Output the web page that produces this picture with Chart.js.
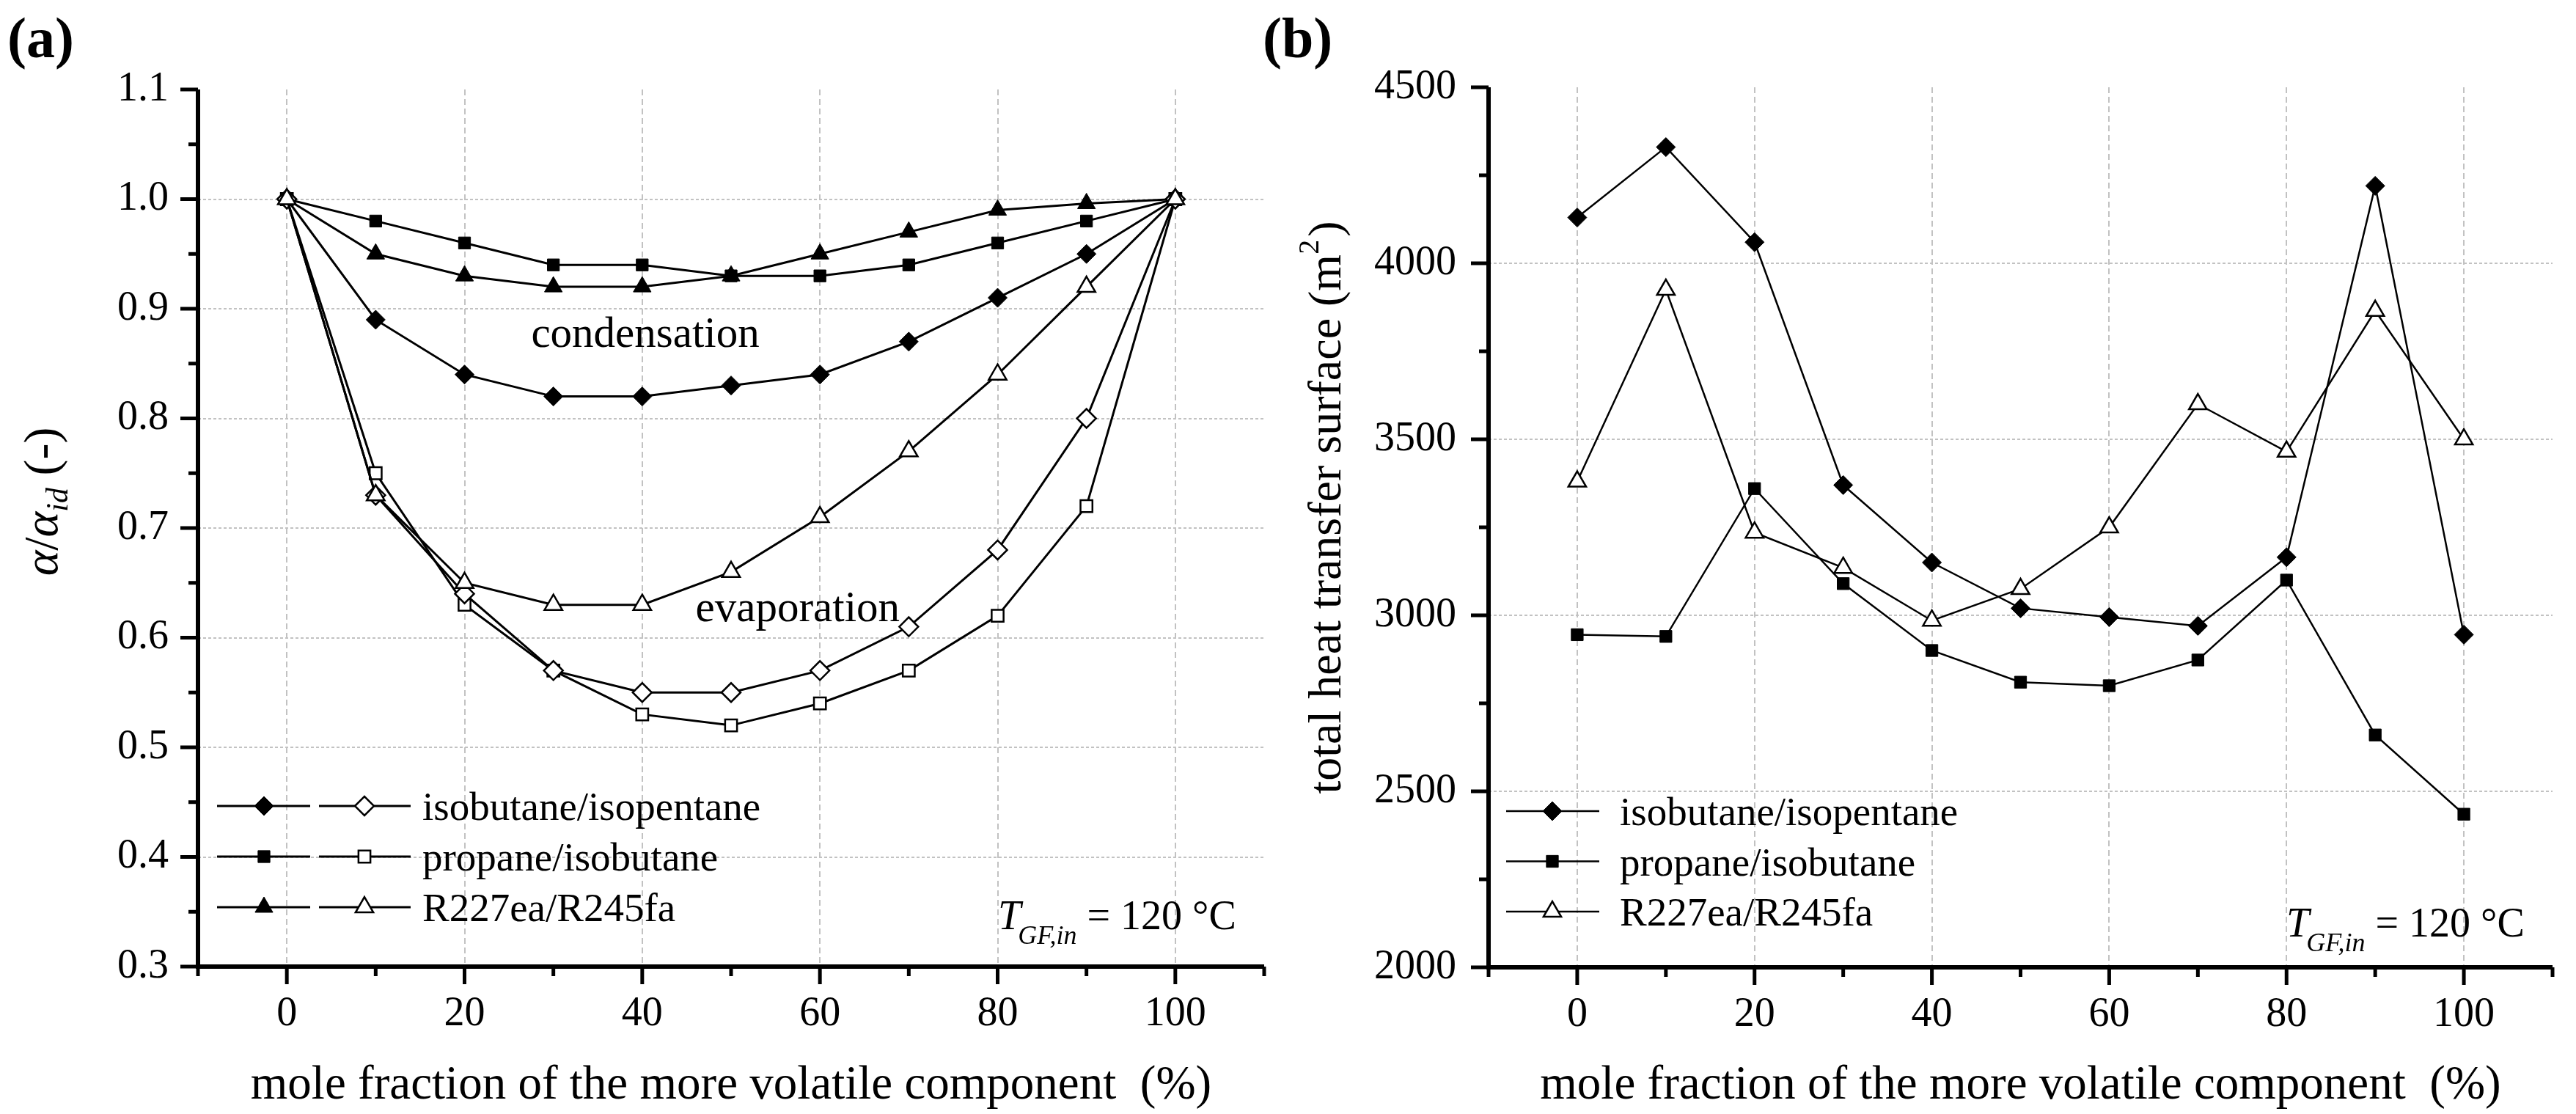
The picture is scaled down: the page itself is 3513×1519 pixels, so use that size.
<!DOCTYPE html>
<html>
<head>
<meta charset="utf-8">
<title>alpha/alpha_id and total heat transfer surface vs. mole fraction</title>
<script src="https://cdn.jsdelivr.net/npm/chart.js"></script>
<style>
  html, body { margin: 0; padding: 0; background: #fff; }
  body { width: 3513px; height: 1519px; position: relative; overflow: hidden; }
  .panel { position: absolute; top: 0; height: 1519px; }
  #panelA { left: 0; width: 1756px; }
  #panelB { left: 1700px; width: 1813px; }
</style>
</head>
<body>
<div class="panel" id="panelA"><canvas id="chartA"></canvas></div>
<div class="panel" id="panelB"><canvas id="chartB"></canvas></div>
<script>
// mole fraction of the more volatile component (%)
const moleFraction = [0, 10, 20, 30, 40, 50, 60, 70, 80, 90, 100];

const seriesNames = ["isobutane/isopentane", "propane/isobutane", "R227ea/R245fa"];

// (a) alpha/alpha_id - condensation (filled markers)
const condIsoIso = [1.00, 0.89, 0.84, 0.82, 0.82, 0.83, 0.84, 0.87, 0.91, 0.95, 1.00];
const condPropIso = [1.00, 0.98, 0.96, 0.94, 0.94, 0.93, 0.93, 0.94, 0.96, 0.98, 1.00];
const condR227 = [1.00, 0.95, 0.93, 0.92, 0.92, 0.93, 0.95, 0.97, 0.99, 0.996, 1.00];
// (a) alpha/alpha_id - evaporation (open markers)
const evapIsoIso = [1.00, 0.73, 0.64, 0.57, 0.55, 0.55, 0.57, 0.61, 0.68, 0.80, 1.00];
const evapPropIso = [1.00, 0.75, 0.63, 0.57, 0.53, 0.52, 0.54, 0.57, 0.62, 0.72, 1.00];
const evapR227 = [1.00, 0.73, 0.65, 0.63, 0.63, 0.66, 0.71, 0.77, 0.84, 0.92, 1.00];

// (b) total heat transfer surface (m2)
const areaIsoIso = [4130, 4330, 4060, 3370, 3150, 3020, 2995, 2970, 3165, 4220, 2945];
const areaPropIso = [2945, 2940, 3360, 3090, 2900, 2810, 2800, 2873, 3100, 2660, 2435];
const areaR227 = [3380, 3925, 3235, 3135, 2985, 3075, 3250, 3600, 3465, 3865, 3500];

// tick labels
const xTickLabels = [0, 20, 40, 60, 80, 100];
const alphaTickLabels = [0.3, 0.4, 0.5, 0.6, 0.7, 0.8, 0.9, 1.0, 1.1];
const areaTickLabels = [2000, 2500, 3000, 3500, 4000, 4500];

const SERIF = "'Liberation Serif', 'Times New Roman', serif";
Chart.defaults.font.family = SERIF;
Chart.defaults.color = "#000";

const markerStyle = {
  diamond: { pointStyle: "rectRot", radius: 13 },
  square: { pointStyle: "rect", radius: 11.5 },
  triangle: { pointStyle: "triangle", radius: 14 }
};

function toPoints(values) {
  return moleFraction.map((x, i) => ({ x: x, y: values[i] }));
}

function lineSet(label, values, shape, filled, width) {
  const m = markerStyle[shape];
  return {
    label: label,
    data: toPoints(values),
    borderColor: "#000",
    borderWidth: width,
    pointStyle: m.pointStyle,
    pointRadius: m.radius,
    pointHoverRadius: m.radius,
    pointBackgroundColor: filled ? "#000" : "#fff",
    pointBorderColor: "#000",
    pointBorderWidth: filled ? 1 : 2.5,
    tension: 0,
    fill: false
  };
}

// major ticks carry labels, minor ticks sit half way between them
function tickSet(major, min, max) {
  const step = major[1] - major[0];
  const minor = [];
  for (let i = -1; i < major.length; i++) {
    const v = major[0] + (i + 0.5) * step;
    if (v >= min - 1e-9 && v <= max + 1e-9) minor.push(v);
  }
  return { major: major, minor: minor, all: major.concat(minor).sort((a, b) => a - b) };
}

function isIn(v, list) {
  return list.some(t => Math.abs(t - v) < 1e-6);
}

function xScale(ticks, height) {
  return {
    type: "linear", min: -10, max: 110,
    afterBuildTicks: s => { s.ticks = ticks.all.map(v => ({ value: v })); },
    afterFit: s => { s.height = height; },
    ticks: {
      autoSkip: false, maxRotation: 0, padding: 32, color: "#000",
      font: { family: SERIF, size: 56 },
      callback: v => isIn(v, ticks.major) ? String(Math.round(v)) : ""
    },
    grid: { display: false, drawTicks: false },
    border: { display: false }
  };
}

function yScale(ticks, width, pad, fmt) {
  return {
    type: "linear", min: ticks.major[0], max: ticks.major[ticks.major.length - 1],
    afterBuildTicks: s => { s.ticks = ticks.all.map(v => ({ value: v })); },
    afterFit: s => { s.width = width; },
    ticks: {
      autoSkip: false, padding: pad, color: "#000",
      font: { family: SERIF, size: 56 },
      callback: v => isIn(v, ticks.major) ? fmt(v) : ""
    },
    grid: { display: false, drawTicks: false },
    border: { display: false }
  };
}

// dashed grid, thick axes and outward ticks
function axesPlugin(xt, yt) {
  return {
    id: "originAxes",
    beforeDatasetsDraw(chart) {
      const { ctx, chartArea: a, scales } = chart;
      ctx.save();
      ctx.strokeStyle = "#c2c2c2";
      ctx.lineWidth = 2;
      ctx.setLineDash([8, 5]);
      xt.major.forEach(v => {
        const px = Math.round(scales.x.getPixelForValue(v));
        ctx.beginPath(); ctx.moveTo(px, a.top); ctx.lineTo(px, a.bottom); ctx.stroke();
      });
      ctx.setLineDash([4, 3]);
      yt.major.slice(1, -1).forEach(v => {
        const py = Math.round(scales.y.getPixelForValue(v));
        ctx.beginPath(); ctx.moveTo(a.left, py); ctx.lineTo(a.right, py); ctx.stroke();
      });
      ctx.restore();
    },
    afterDatasetsDraw(chart) {
      const { ctx, chartArea: a, scales } = chart;
      ctx.save();
      ctx.setLineDash([]);
      ctx.strokeStyle = "#000";
      ctx.lineCap = "butt";
      ctx.lineWidth = 5;
      yt.all.forEach(v => {
        const py = scales.y.getPixelForValue(v);
        const len = isIn(v, yt.major) ? 24 : 13;
        ctx.beginPath(); ctx.moveTo(a.left - len, py); ctx.lineTo(a.left, py); ctx.stroke();
      });
      xt.all.forEach(v => {
        const px = scales.x.getPixelForValue(v);
        const len = isIn(v, xt.major) ? 24 : 13;
        ctx.beginPath(); ctx.moveTo(px, a.bottom); ctx.lineTo(px, a.bottom + len); ctx.stroke();
      });
      ctx.lineWidth = 6;
      ctx.beginPath();
      ctx.moveTo(a.left, a.top);
      ctx.lineTo(a.left, a.bottom);
      ctx.lineTo(a.right, a.bottom);
      ctx.stroke();
      ctx.restore();
    }
  };
}

// text runs made of pieces with own font and baseline shift
function drawRuns(ctx, x, y, pieces, align, rotate) {
  ctx.save();
  ctx.translate(x, y);
  if (rotate) ctx.rotate(-Math.PI / 2);
  ctx.fillStyle = "#000";
  ctx.textAlign = "left";
  ctx.textBaseline = "alphabetic";
  let total = 0;
  pieces.forEach(p => { ctx.font = p.font; p.w = ctx.measureText(p.text).width + (p.gap || 0); total += p.w; });
  let pos = align === "center" ? -total / 2 : 0;
  pieces.forEach(p => {
    ctx.font = p.font;
    ctx.fillText(p.text, pos, p.dy || 0);
    pos += p.w;
  });
  ctx.restore();
}

function marker(ctx, shape, filled, px, py) {
  const m = markerStyle[shape];
  ctx.save();
  ctx.setLineDash([]);
  ctx.fillStyle = filled ? "#000" : "#fff";
  ctx.strokeStyle = "#000";
  ctx.lineWidth = filled ? 1 : 2.5;
  Chart.helpers.drawPoint(ctx, { pointStyle: m.pointStyle, radius: m.radius, rotation: 0, borderWidth: ctx.lineWidth }, px, py);
  ctx.restore();
}

function segment(ctx, x1, x2, y, width) {
  ctx.save();
  ctx.strokeStyle = "#000";
  ctx.lineWidth = width;
  ctx.beginPath(); ctx.moveTo(x1, y); ctx.lineTo(x2, y); ctx.stroke();
  ctx.restore();
}

function tempNote(ctx, a, dy) {
  drawRuns(ctx, a.right - 363, a.bottom - dy, [
    { text: "T", font: "italic 56px " + SERIF, gap: -4 },
    { text: "GF,in", font: "italic 36px " + SERIF, dy: 20, gap: 14 },
    { text: "= 120 \u00B0C", font: "56px " + SERIF }
  ], "left", false);
}

const shapes = ["diamond", "square", "triangle"];
const xTitle = "mole fraction of the more volatile component  (%)";

// ---------- (a) ----------
const xTicksA = tickSet(xTickLabels, -10, 110);
const yTicksA = tickSet(alphaTickLabels, 0.3, 1.1);

const textA = {
  id: "textA",
  afterDraw(chart) {
    const { ctx, chartArea: a, scales } = chart;
    drawRuns(ctx, 10, 78, [{ text: "(a)", font: "bold 78px " + SERIF }], "left", false);
    drawRuns(ctx, 78, 684, [
      { text: "\u03B1", font: "italic 66px " + SERIF },
      { text: "/", font: "66px " + SERIF },
      { text: "\u03B1", font: "italic 66px " + SERIF },
      { text: "id", font: "italic 42px " + SERIF, dy: 14 },
      { text: " (-)", font: "66px " + SERIF }
    ], "center", true);
    drawRuns(ctx, (a.left + a.right) / 2, 1498, [{ text: xTitle, font: "65px " + SERIF }], "center", false);
    drawRuns(ctx, scales.x.getPixelForValue(27.5), scales.y.getPixelForValue(0.865),
      [{ text: "condensation", font: "59px " + SERIF }], "left", false);
    drawRuns(ctx, scales.x.getPixelForValue(46), scales.y.getPixelForValue(0.615),
      [{ text: "evaporation", font: "59px " + SERIF }], "left", false);
    tempNote(ctx, a, 51);
    // legend: filled = condensation, open = evaporation
    seriesNames.forEach((name, i) => {
      const y = a.bottom - 219 + i * 69;
      const l = a.left;
      segment(ctx, l + 26, l + 153, y, 3);
      marker(ctx, shapes[i], true, l + 90, y);
      segment(ctx, l + 165, l + 290, y, 3);
      marker(ctx, shapes[i], false, l + 227, y);
      drawRuns(ctx, l + 306, y + 19, [{ text: name, font: "55px " + SERIF }], "left", false);
    });
  }
};

new Chart(document.getElementById("chartA"), {
  type: "line",
  data: {
    datasets: [
      lineSet(seriesNames[2] + " evaporation", evapR227, "triangle", false, 3),
      lineSet(seriesNames[0] + " evaporation", evapIsoIso, "diamond", false, 3),
      lineSet(seriesNames[1] + " evaporation", evapPropIso, "square", false, 3),
      lineSet(seriesNames[2] + " condensation", condR227, "triangle", true, 3),
      lineSet(seriesNames[1] + " condensation", condPropIso, "square", true, 3),
      lineSet(seriesNames[0] + " condensation", condIsoIso, "diamond", true, 3)
    ]
  },
  options: {
    responsive: true,
    maintainAspectRatio: false,
    devicePixelRatio: 1,
    animation: false,
    events: [],
    layout: { padding: { top: 122, right: 14, left: 0, bottom: 0 } },
    scales: {
      x: xScale(xTicksA, 201),
      y: yScale(yTicksA, 270, 40, v => v.toFixed(1))
    },
    plugins: { legend: { display: false }, tooltip: { enabled: false } }
  },
  plugins: [axesPlugin(xTicksA, yTicksA), textA]
});

// ---------- (b) ----------
const xTicksB = tickSet(xTickLabels, -10, 110);
const yTicksB = tickSet(areaTickLabels, 2000, 4500);

const textB = {
  id: "textB",
  afterDraw(chart) {
    const { ctx, chartArea: a } = chart;
    drawRuns(ctx, 22, 78, [{ text: "(b)", font: "bold 78px " + SERIF }], "left", false);
    drawRuns(ctx, 128, 692, [
      { text: "total heat transfer surface (m", font: "64px " + SERIF },
      { text: "2", font: "40px " + SERIF, dy: -30, gap: 4 },
      { text: ")", font: "64px " + SERIF }
    ], "center", true);
    drawRuns(ctx, (a.left + a.right) / 2, 1498, [{ text: xTitle, font: "65px " + SERIF }], "center", false);
    tempNote(ctx, a, 42);
    seriesNames.forEach((name, i) => {
      const y = a.bottom - 213 + i * 68.5;
      const l = a.left;
      segment(ctx, l + 24, l + 151, y, 2.5);
      marker(ctx, shapes[i], i < 2, l + 87, y);
      drawRuns(ctx, l + 179, y + 19, [{ text: name, font: "55px " + SERIF }], "left", false);
    });
  }
};

new Chart(document.getElementById("chartB"), {
  type: "line",
  data: {
    datasets: [
      lineSet(seriesNames[2], areaR227, "triangle", false, 2.5),
      lineSet(seriesNames[1], areaPropIso, "square", true, 2.5),
      lineSet(seriesNames[0], areaIsoIso, "diamond", true, 2.5)
    ]
  },
  options: {
    responsive: true,
    maintainAspectRatio: false,
    devicePixelRatio: 1,
    animation: false,
    events: [],
    layout: { padding: { top: 119, right: 11, left: 0, bottom: 0 } },
    scales: {
      x: xScale(xTicksB, 200),
      y: yScale(yTicksB, 330, 44, v => String(Math.round(v)))
    },
    plugins: { legend: { display: false }, tooltip: { enabled: false } }
  },
  plugins: [axesPlugin(xTicksB, yTicksB), textB]
});
</script>
</body>
</html>
